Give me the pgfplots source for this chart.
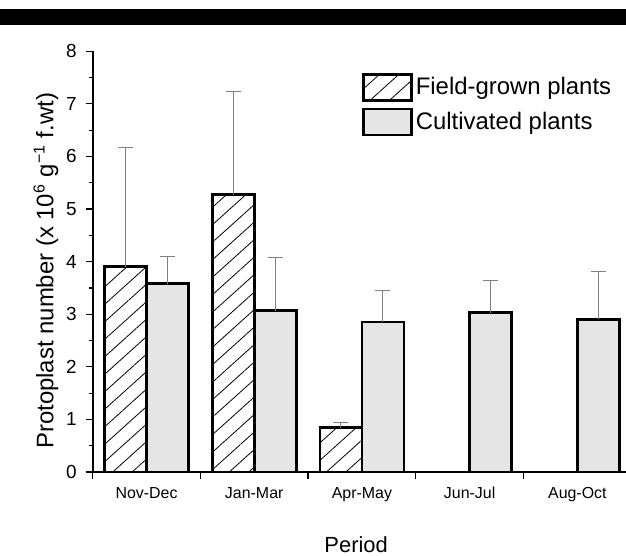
\documentclass[border=0pt]{standalone}
\usepackage{pgfplots}
\pgfplotsset{compat=1.18}
\usepackage{pgfplotstable}
\usepackage{fontspec}
\setmainfont{Liberation Sans}
\usetikzlibrary{patterns.meta,calc}

\pgfplotsset{boxlegend/.style={legend image code/.code={\draw[##1, line width=1.2bp] (0bp,-6.5bp) rectangle (24bp,6.5bp);}}}

\pgfplotstableread{
x y e
0 3.90 2.27
1 5.27 1.97
2 0.84 0.11
}\field
\pgfplotstableread{
x y e
0 3.58 0.52
1 3.07 1.01
2 2.85 0.60
3 3.03 0.61
4 2.90 0.92
}\cult

\begin{document}
\begin{tikzpicture}
\begin{axis}[
  scale only axis, width=266.7bp, height=210.4bp,
  xmin=-0.5, xmax=4.452, ymin=0, ymax=8,
  clip=false,
  axis x line=bottom, axis y line=left,
  axis line style={-, line width=1bp},
  ybar=0pt, bar width=0.39,
  xtick={-0.5,0.5,1.5,2.5,3.5}, xticklabels={,,,,},
  extra x ticks={0,1,2,3,4},
  extra x tick labels={Nov-Dec,Jan-Mar,Apr-May,Jun-Jul,Aug-Oct},
  extra x tick style={major tick length=0pt, tick style={draw=none}},
  ytick={0,1,...,8}, minor y tick num=1,
  tick align=outside, major tick length=3.5bp, minor tick length=2bp,
  tick style={line width=0.6bp, black},
  /pgf/number format/assume math mode=true,
  y tick label style={font=\fontsize{9.5}{10}\selectfont, xshift=-1bp},
  x tick label style={font=\fontsize{8}{9}\selectfont, yshift=-4bp},
  ylabel={Protoplast number (x 10\textsuperscript{6} g\textsuperscript{−1} f.wt)},
  xlabel={Period},
  every axis y label/.style={at={(axis description cs:-0.0875,0.478)}, rotate=90, anchor=center, font=\fontsize{12}{13}\selectfont},
  every axis x label/.style={at={(axis description cs:0.494,-0.172)}, anchor=center, inner sep=0pt, font=\fontsize{11}{12}\selectfont},
  legend style={at={(axis description cs:0.505,0.948)}, anchor=north west, draw=none, fill=none, inner sep=0pt, font=\fontsize{12}{13}\selectfont, row sep=3bp, nodes={inner sep=1.5bp}},
  legend cell align=left,
]
\addplot[draw=black, line width=1.4bp, pattern={Lines[angle=42,distance=6.5bp,line width=0.4bp]},
  boxlegend,
  error bars/.cd, y dir=plus, y explicit,
  error bar style={gray, line width=0.5bp},
  error mark options={rotate=90, mark size=3.75bp, gray, line width=0.5bp}]
  table[x=x, y=y, y error=e] {\field};
\addplot[draw=black, line width=1.4bp, fill=black!10,
  boxlegend,
  error bars/.cd, y dir=plus, y explicit,
  error bar style={gray, line width=0.5bp},
  error mark options={rotate=90, mark size=3.75bp, gray, line width=0.5bp}]
  table[x=x, y=y, y error=e] {\cult};
\legend{Field-grown plants, Cultivated plants}
\coordinate (bl) at (rel axis cs:0,0);
\end{axis}
\pgfresetboundingbox
\path[use as bounding box] ($(bl)+(-46.325bp,-42bp)$) rectangle ($(bl)+(266.675bp,236bp)$);
\fill[black] ($(bl)+(-46.325bp,223.5bp)$) rectangle ($(bl)+(266.675bp,231.5bp)$);
\end{tikzpicture}
\end{document}
